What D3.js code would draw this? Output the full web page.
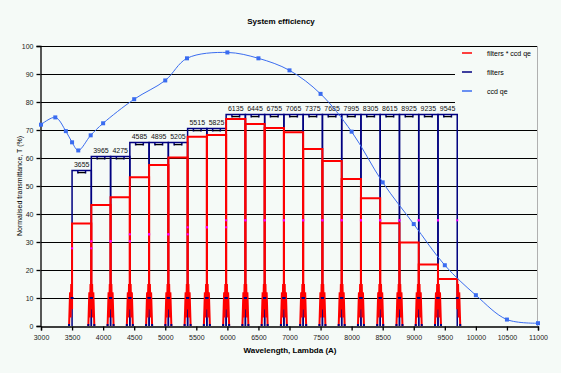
<!DOCTYPE html>
<html>
<head>
<meta charset="utf-8">
<script src="https://cdn.jsdelivr.net/npm/d3@7"></script>
<style>
body { margin: 0; background: #f5faf7; }
text { font-family: "Liberation Sans", Arial, sans-serif; }
</style>
</head>
<body>
<div id="chart"></div>
<script>
// filter centres (A), every filter is 310 A wide
let filterCentres = [3655, 3965, 4275, 4585, 4895, 5205, 5515, 5825, 6135, 6445,
	6755, 7065, 7375, 7685, 7995, 8305, 8615, 8925, 9235, 9545]
let filterWidth = 310
// filter peak transmission (%)
let filterPeak = [55.5, 60.5, 60.5, 65.5, 65.5, 65.5, 70.5, 70.5, 75.5, 75.5,
	75.5, 75.5, 75.5, 75.5, 75.5, 75.5, 75.5, 75.5, 75.5, 75.5]
// filters * ccd qe (%)
let systemPeak = [36.6, 43.2, 46.0, 53.1, 57.5, 60.2, 67.6, 68.2, 73.9, 72.1,
	70.7, 69.2, 63.2, 58.9, 52.5, 45.6, 36.7, 29.8, 22.0, 16.8]
// ccd quantum efficiency
let qeWave = [3000, 3230, 3400, 3500, 3600, 3800, 4000, 4500, 5000, 5350, 6000,
	6500, 7000, 7500, 8000, 8500, 9000, 9500, 10000, 10500, 11000]
let qeValue = [71.9, 74.5, 69.6, 65.6, 62.7, 68.1, 72.4, 81.0, 87.7, 95.6, 97.7,
	95.6, 91.3, 82.9, 69.4, 51.3, 36.4, 21.7, 11.0, 2.3, 1.0]
let xTicks = d3.range(3000, 11001, 500)
let yTicks = d3.range(0, 101, 10)
let legendNames = ["filters * ccd qe", "filters", "ccd qe"]

let width = 561
let height = 373
let bg = "#f5faf7"
let red = "#ff0000"
let navy = "#000080"
let blue = "#3a6cf0"

let svg = d3.select("#chart")
	.append("svg")
	.attr("width", width)
	.attr("height", height)

svg.append("rect")
	.attr("width", width)
	.attr("height", height)
	.attr("fill", bg)

let x = d3.scaleLinear().domain([3000, 11000]).range([41, 538])
let y = d3.scaleLinear().domain([0, 100]).range([326, 46])

// Grid lines
svg.selectAll(".grid")
	.data(yTicks.filter(d => d > 0))
	.enter()
	.append("line")
	.attr("x1", x(3000))
	.attr("x2", x(11000))
	.attr("y1", d => y(d) + 0.5)
	.attr("y2", d => y(d) + 0.5)
	.attr("stroke", "#000")
	.attr("stroke-width", 1.2)

// right border
svg.append("line")
	.attr("x1", x(11000) - 0.5).attr("x2", x(11000) - 0.5)
	.attr("y1", y(100)).attr("y2", y(0))
	.attr("stroke", "#b0b0b0")

// Axes
let xAxis = svg.append("g")
	.attr("transform", "translate(0," + (y(0) + 0.5) + ")")
	.call(d3.axisBottom(x).tickValues(xTicks).tickSize(4).tickPadding(5).tickFormat(d3.format("d")))
let yAxis = svg.append("g")
	.attr("transform", "translate(" + (x(3000) - 0.5) + ",0)")
	.call(d3.axisLeft(y).tickValues(yTicks).tickSize(4).tickPadding(3))
for (let a of [xAxis, yAxis]) {
	a.select(".domain").attr("stroke", "#000").attr("stroke-width", 1.3)
	a.selectAll(".tick line").attr("stroke", "#000").attr("stroke-width", 1.3)
	a.selectAll("text").attr("font-size", 7).attr("fill", "#222")
		.attr("font-family", "Liberation Sans, Arial, sans-serif")
}

// Filters (navy boxes)
let filters = filterCentres.map((c, i) => ({
	c: c,
	x0: x(c - filterWidth / 2),
	x1: x(c + filterWidth / 2),
	peak: filterPeak[i],
	sys: systemPeak[i]
}))

let gF = svg.append("g")
gF.selectAll("path")
	.data(filters)
	.enter()
	.append("path")
	.attr("d", f => {
		let t = y(f.peak)
		let w = f.x1 - f.x0
		let n1 = f.x0 + w * 0.3
		let n2 = f.x0 + w * 0.7
		return "M" + f.x0 + "," + y(0) + "V" + t + "H" + n1 + "v3m0,-3H" + n2 + "v3m0,-3H" + f.x1 + "V" + y(0)
	})
	.attr("fill", "none")
	.attr("stroke", navy)
	.attr("stroke-width", 1.5)

// little black bars on the filter tops
gF.selectAll(".bar")
	.data(filters)
	.enter()
	.append("line")
	.attr("x1", f => f.x0 + (f.x1 - f.x0) * 0.3)
	.attr("x2", f => f.x0 + (f.x1 - f.x0) * 0.7)
	.attr("y1", f => y(f.peak) + 2)
	.attr("y2", f => y(f.peak) + 2)
	.attr("stroke", "#000")
	.attr("stroke-width", 1.3)

// filters * ccd qe (red)
let redLine = d3.line()
svg.append("g").selectAll("path")
	.data(filters)
	.enter()
	.append("path")
	.attr("d", f => {
		let t = y(f.sys)
		let b = y(0)
		let pts = [
			[f.x0 - 3, b], [f.x0 - 2, y(12)], [f.x0 - 1.5, y(3)], [f.x0 - 0.8, y(15)], [f.x0, y(6)],
			[f.x0, t], [f.x1, t],
			[f.x1, y(6)], [f.x1 + 0.8, y(15)], [f.x1 + 1.5, y(3)], [f.x1 + 2, y(12)], [f.x1 + 3, b]
		]
		return redLine(pts)
	})
	.attr("fill", "none")
	.attr("stroke", red)
	.attr("stroke-width", 2)

// filter sample markers (navy at 10 % and 0, magenta at half peak)
let gM = svg.append("g")
filters.forEach(f => {
	[f.x0, f.x1].forEach(e => {
		gM.append("rect").attr("x", e - 1.5).attr("y", y(10) - 1).attr("width", 3).attr("height", 2).attr("fill", navy)
		gM.append("rect").attr("x", e - 1).attr("y", y(f.peak / 2) - 1).attr("width", 2).attr("height", 2).attr("fill", "#ff00ff")
	})
	gM.append("rect").attr("x", f.x0 - 4).attr("y", y(0) - 2).attr("width", 2).attr("height", 2).attr("fill", navy)
	gM.append("rect").attr("x", f.x1 + 2).attr("y", y(0) - 2).attr("width", 2).attr("height", 2).attr("fill", navy)
})

// filter labels
svg.append("g").selectAll("text")
	.data(filters)
	.enter()
	.append("text")
	.attr("x", f => (f.x0 + f.x1) / 2)
	.attr("y", f => y(f.peak) - 4)
	.attr("text-anchor", "middle")
	.attr("font-size", 7)
	.attr("fill", "#111")
	.text(f => f.c)

// ccd qe curve
let qe = qeWave.map((w, i) => [w, qeValue[i]])
svg.append("path")
	.datum(qe)
	.attr("d", d3.line().x(d => x(d[0])).y(d => y(d[1])).curve(d3.curveCatmullRom))
	.attr("fill", "none")
	.attr("stroke", blue)
	.attr("stroke-width", 1)
svg.append("g").selectAll("rect")
	.data(qe)
	.enter()
	.append("rect")
	.attr("x", d => x(d[0]) - 2)
	.attr("y", d => y(d[1]) - 2)
	.attr("width", 4)
	.attr("height", 4)
	.attr("fill", blue)

// Legend
svg.append("rect")
	.attr("x", 455).attr("y", 48)
	.attr("width", x(11000) - 456).attr("height", 57)
	.attr("fill", bg)
let legend = svg.append("g").selectAll("g")
	.data(legendNames)
	.enter()
	.append("g")
	.attr("transform", (d, i) => "translate(462," + (53 + i * 19) + ")")
legend.append("line")
	.attr("x1", 0).attr("x2", 10)
	.attr("stroke", (d, i) => [red, navy, blue][i])
	.attr("stroke-width", 1.5)
legend.append("text")
	.attr("x", 25)
	.attr("y", 2.5)
	.attr("font-size", 7)
	.text(d => d)

// Titles
svg.append("text")
	.attr("x", 281).attr("y", 24)
	.attr("text-anchor", "middle")
	.attr("font-size", 8)
	.attr("font-weight", "bold")
	.text("System efficiency")
svg.append("text")
	.attr("x", 290).attr("y", 353)
	.attr("text-anchor", "middle")
	.attr("font-size", 8)
	.attr("font-weight", "bold")
	.text("Wavelength, Lambda (A)")
svg.append("text")
	.attr("transform", "translate(22," + 186 + ") rotate(-90)")
	.attr("text-anchor", "middle")
	.attr("font-size", 7)
	.text("Normalised transmittance, T (%)")
</script>
</body>
</html>
